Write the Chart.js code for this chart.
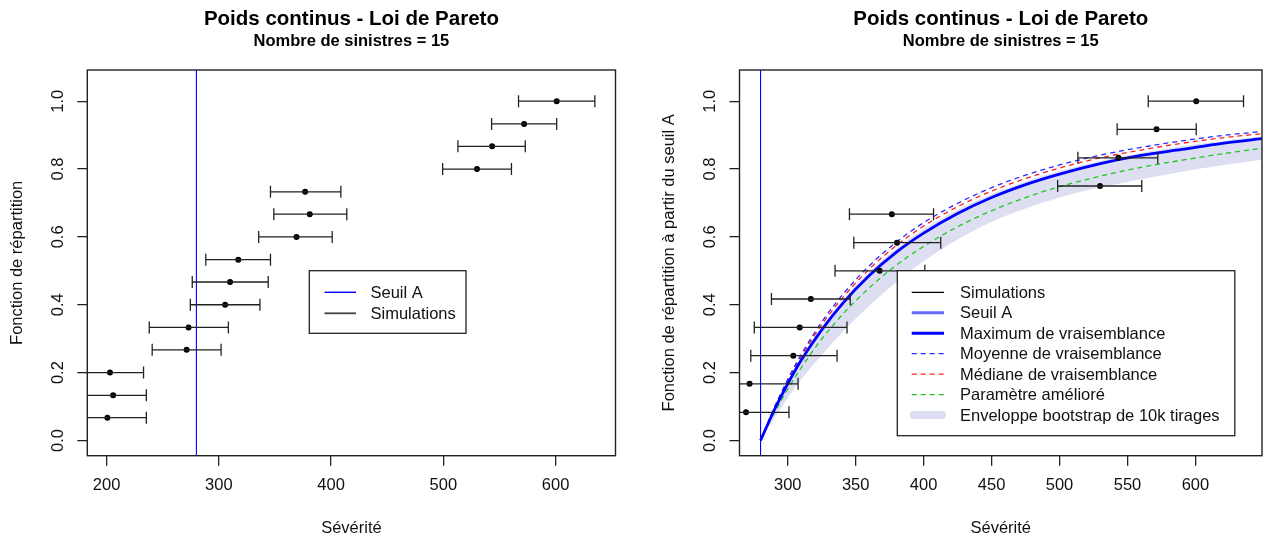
<!DOCTYPE html>
<html><head><meta charset="utf-8">
<script src="https://cdn.jsdelivr.net/npm/chart.js@4.4.1/dist/chart.umd.min.js"></script>
<style>
html,body{margin:0;padding:0;background:#fff;}
#wrap{position:relative;width:1266px;height:539px;overflow:hidden;background:#fff;}
canvas{position:absolute;top:0;}
</style></head><body>
<div id="wrap">
<canvas id="c1" width="633" height="539" style="left:0px;width:633px;height:539px"></canvas>
<canvas id="c2" width="633" height="539" style="left:633px;width:633px;height:539px"></canvas>
</div>
<script>
// ---------- data ----------
const titleMain = 'Poids continus - Loi de Pareto';
const titleSub = 'Nombre de sinistres = 15';
const seuilA = 280;

// left panel: 15 simulations
const leftY    = [0.067, 0.133, 0.200, 0.267, 0.333, 0.400, 0.467, 0.533, 0.600, 0.667, 0.733, 0.800, 0.867, 0.933, 1.000];
const leftX    = [200.7, 205.8, 203.0, 271.3, 273.0, 305.6, 310.0, 317.3, 369.2, 381.0, 376.9, 530.0, 543.5, 572.0, 601.0];
const leftLow  = [168.0, 172.0, 171.0, 240.6, 238.0, 274.6, 276.3, 288.4, 335.5, 349.0, 346.0, 499.4, 513.0, 543.0, 567.0];
const leftHigh = [235.4, 235.4, 232.9, 302.0, 308.5, 336.6, 344.0, 346.0, 401.0, 414.0, 408.7, 560.7, 573.0, 601.0, 635.0];
const leftXTicks = [200, 300, 400, 500, 600];

// right panel: 12 simulations above the threshold
const rightY    = [0.083, 0.167, 0.250, 0.333, 0.417, 0.500, 0.583, 0.667, 0.750, 0.833, 0.917, 1.000];
const rightX    = [269.3, 271.9, 304.1, 308.8, 317.0, 367.6, 380.4, 376.6, 529.8, 543.3, 571.4, 600.6];
const rightLow  = [238.0, 240.0, 272.8, 275.4, 288.0, 334.8, 348.6, 345.4, 498.6, 513.5, 542.4, 565.3];
const rightHigh = [300.9, 307.6, 336.3, 343.6, 346.0, 400.9, 412.6, 407.3, 560.5, 572.3, 600.6, 635.4];
const rightXTicks = [300, 350, 400, 450, 500, 550, 600];

// fitted curves
const curveX  = [280, 290, 300, 310, 325, 340, 360, 380, 400, 425, 450, 475, 500, 530, 560, 590, 620, 650];
const mleY    = [0, 0.089, 0.167, 0.237, 0.326, 0.402, 0.486, 0.555, 0.611, 0.669, 0.716, 0.754, 0.785, 0.816, 0.840, 0.858, 0.876, 0.890];
const moyY    = [0, 0.096, 0.180, 0.254, 0.349, 0.428, 0.515, 0.585, 0.642, 0.699, 0.745, 0.782, 0.812, 0.841, 0.864, 0.883, 0.899, 0.911];
const medY    = [0, 0.094, 0.176, 0.248, 0.341, 0.419, 0.505, 0.575, 0.632, 0.689, 0.735, 0.772, 0.803, 0.833, 0.856, 0.876, 0.892, 0.905];
const amelY   = [0, 0.080, 0.151, 0.215, 0.299, 0.370, 0.450, 0.517, 0.572, 0.630, 0.677, 0.716, 0.748, 0.779, 0.805, 0.826, 0.845, 0.862];
const envHigh = [0, 0.092, 0.172, 0.243, 0.335, 0.412, 0.497, 0.566, 0.623, 0.680, 0.726, 0.763, 0.794, 0.824, 0.847, 0.867, 0.883, 0.897];
const envLow  = [0, 0.065, 0.125, 0.180, 0.252, 0.318, 0.397, 0.467, 0.528, 0.592, 0.645, 0.684, 0.716, 0.746, 0.770, 0.792, 0.811, 0.828];

const yTicks = [0, 0.2, 0.4, 0.6, 0.8, 1.0];

// ---------- styling ----------
const FAM = '"Liberation Sans", Arial, sans-serif';
const FS = 16.5;
const TXT = '#111';
Chart.defaults.font.family = FAM;

const pts = (xs, ys) => xs.map((x, i) => ({x: x, y: ys[i]}));

function titlesPlugin() {
  return { id: 'rtitles', afterDraw(chart) {
    const {ctx, chartArea: a} = chart;
    const cx = (a.left + a.right) / 2;
    ctx.save();
    ctx.fillStyle = '#000';
    ctx.textAlign = 'center';
    ctx.textBaseline = 'alphabetic';
    ctx.font = 'bold 20.5px ' + FAM;
    ctx.fillText(titleMain, cx, 25);
    ctx.font = 'bold 16.5px ' + FAM;
    ctx.fillText(titleSub, cx, 46);
    ctx.restore();
  }};
}

function boxPlugin() {
  return { id: 'rbox', afterDraw(chart) {
    const {ctx, chartArea: a} = chart;
    ctx.save();
    ctx.strokeStyle = '#222';
    ctx.lineWidth = 1.4;
    ctx.strokeRect(a.left, a.top, a.right - a.left, a.bottom - a.top);
    ctx.restore();
  }};
}

function errPlugin(xs, ys, lows, highs) {
  return { id: 'rerr', afterDatasetsDraw(chart) {
    const {ctx, chartArea: a, scales} = chart;
    const sx = scales.x, sy = scales.y;
    ctx.save();
    ctx.beginPath();
    ctx.rect(a.left, a.top, a.right - a.left, a.bottom - a.top);
    ctx.clip();
    // threshold line
    const tx = sx.getPixelForValue(seuilA);
    ctx.strokeStyle = '#0000FF';
    ctx.lineWidth = 1.1;
    ctx.beginPath();
    ctx.moveTo(tx, a.top); ctx.lineTo(tx, a.bottom);
    ctx.stroke();
    // error bars
    ctx.strokeStyle = '#222';
    ctx.lineWidth = 1.3;
    for (let i = 0; i < xs.length; i++) {
      const py = sy.getPixelForValue(ys[i]);
      const x0 = sx.getPixelForValue(lows[i]);
      const x1 = sx.getPixelForValue(highs[i]);
      ctx.beginPath();
      ctx.moveTo(x0, py); ctx.lineTo(x1, py);
      ctx.moveTo(x0, py - 6); ctx.lineTo(x0, py + 6);
      ctx.moveTo(x1, py - 6); ctx.lineTo(x1, py + 6);
      ctx.stroke();
    }
    ctx.restore();
  }};
}

function legendPlugin(box, items, lineX0, lineX1, textX, y0, dy) {
  return { id: 'rlegend', afterDraw(chart) {
    const ctx = chart.ctx;
    ctx.save();
    ctx.fillStyle = '#fff';
    ctx.fillRect(box[0], box[1], box[2] - box[0], box[3] - box[1]);
    ctx.strokeStyle = '#222';
    ctx.lineWidth = 1.3;
    ctx.strokeRect(box[0], box[1], box[2] - box[0], box[3] - box[1]);
    items.forEach((it, i) => {
      const y = y0 + i * dy;
      ctx.save();
      ctx.strokeStyle = it.color;
      ctx.lineWidth = it.width;
      ctx.setLineDash(it.dash || []);
      ctx.lineCap = it.cap || 'butt';
      ctx.beginPath();
      ctx.moveTo(lineX0 + (it.inset || 0), y);
      ctx.lineTo(lineX1 - (it.inset || 0), y);
      ctx.stroke();
      ctx.restore();
      ctx.fillStyle = TXT;
      ctx.font = FS + 'px ' + FAM;
      ctx.textAlign = 'left';
      ctx.textBaseline = 'middle';
      ctx.fillText(it.label, textX, y + 1);
    });
    ctx.restore();
  }};
}

function makeScales(xmin, xmax, xTicks, yTitle, yWidth, yTitlePad) {
  const grid = {drawOnChartArea: false, drawTicks: true, tickLength: 10, color: '#222', lineWidth: 1.3};
  return {
    x: {
      type: 'linear', min: xmin, max: xmax,
      afterBuildTicks: s => { s.ticks = xTicks.map(v => ({value: v})); },
      afterFit: s => { s.height = 83.3; },
      grid: grid, border: {display: false},
      ticks: {font: {size: FS}, color: TXT, padding: 10, maxRotation: 0, autoSkip: false,
              callback: v => String(v)},
      title: {display: true, text: 'Sévérité', font: {size: FS}, color: TXT, padding: {top: 0, bottom: 1}}
    },
    y: {
      type: 'linear', min: -0.045, max: 1.092,
      afterBuildTicks: s => { s.ticks = yTicks.map(v => ({value: v})); },
      afterFit: s => { s.width = yWidth; },
      grid: grid, border: {display: false},
      ticks: {font: {size: FS}, color: TXT, padding: 7.5, minRotation: 90, maxRotation: 90,
              crossAlign: 'center', autoSkip: false, callback: v => Number(v).toFixed(1)},
      title: {display: true, text: yTitle, font: {size: FS}, color: TXT, padding: {top: yTitlePad, bottom: 0}}
    }
  };
}

// ---------- left chart ----------
new Chart(document.getElementById('c1'), {
  type: 'scatter',
  data: { datasets: [
    {label: 'Simulations', data: pts(leftX, leftY), pointRadius: 3, pointBackgroundColor: '#000',
     pointBorderWidth: 0, showLine: false}
  ]},
  options: {
    responsive: false, animation: false, devicePixelRatio: 1,
    layout: {padding: {left: 0, right: 17.5, top: 70, bottom: 0}},
    plugins: {legend: {display: false}, tooltip: {enabled: false}},
    scales: makeScales(182.8, 653.4, leftXTicks, 'Fonction de répartition', 87.3, 8)
  },
  plugins: [
    errPlugin(leftX, leftY, leftLow, leftHigh), boxPlugin(), titlesPlugin(),
    legendPlugin([309.3, 270.7, 466, 333.3], [
      {label: 'Seuil A', color: '#0000FF', width: 1.4},
      {label: 'Simulations', color: '#444', width: 1.8}
    ], 324.5, 356, 370.5, 292.3, 21)
  ]
});

// ---------- right chart ----------
const OFF = 633;
new Chart(document.getElementById('c2'), {
  type: 'scatter',
  data: { datasets: [
    {label: 'Simulations', data: pts(rightX, rightY), pointRadius: 3, pointBackgroundColor: '#000',
     pointBorderWidth: 0, showLine: false},
    {type: 'line', label: 'Maximum de vraisemblance', data: pts(curveX, mleY), borderColor: '#0000FF',
     borderWidth: 2.8, pointRadius: 0, fill: false, cubicInterpolationMode: 'monotone'},
    {type: 'line', label: 'Moyenne de vraisemblance', data: pts(curveX, moyY), borderColor: '#2B2BFF',
     borderWidth: 1.3, borderDash: [5, 4], pointRadius: 0, fill: false, cubicInterpolationMode: 'monotone'},
    {type: 'line', label: 'Médiane de vraisemblance', data: pts(curveX, medY), borderColor: '#FF2020',
     borderWidth: 1.3, borderDash: [5, 4], pointRadius: 0, fill: false, cubicInterpolationMode: 'monotone'},
    {type: 'line', label: 'Paramètre amélioré', data: pts(curveX, amelY), borderColor: '#1FC81F',
     borderWidth: 1.3, borderDash: [5, 4], pointRadius: 0, fill: false, cubicInterpolationMode: 'monotone'},
    {type: 'line', label: 'env-haut', data: pts(curveX, envHigh), borderWidth: 0, borderColor: 'rgba(0,0,0,0)',
     backgroundColor: 'rgb(222,222,242)', pointRadius: 0, fill: '+1', cubicInterpolationMode: 'monotone'},
    {type: 'line', label: 'env-bas', data: pts(curveX, envLow), borderWidth: 0, borderColor: 'rgba(0,0,0,0)',
     pointRadius: 0, fill: false, cubicInterpolationMode: 'monotone'}
  ]},
  options: {
    responsive: false, animation: false, devicePixelRatio: 1,
    layout: {padding: {left: 0, right: 1, top: 70, bottom: 0}},
    plugins: {legend: {display: false}, tooltip: {enabled: false}},
    scales: makeScales(264.5, 649, rightXTicks, 'Fonction de répartition à partir du seuil A', 106.5, 27)
  },
  plugins: [
    errPlugin(rightX, rightY, rightLow, rightHigh), boxPlugin(), titlesPlugin(),
    legendPlugin([897.3 - OFF, 270.7, 1234.8 - OFF, 435.7], [
      {label: 'Simulations', color: '#000', width: 1.2},
      {label: 'Seuil A', color: '#6A6AFF', width: 3},
      {label: 'Maximum de vraisemblance', color: '#0000FF', width: 3},
      {label: 'Moyenne de vraisemblance', color: '#2B2BFF', width: 1.3, dash: [5, 4]},
      {label: 'Médiane de vraisemblance', color: '#FF2020', width: 1.3, dash: [5, 4]},
      {label: 'Paramètre amélioré', color: '#1FC81F', width: 1.3, dash: [5, 4]},
      {label: 'Enveloppe bootstrap de 10k tirages', color: 'rgb(222,222,242)', width: 8, cap: 'round', inset: 2}
    ], 911.7 - OFF, 944 - OFF, 960 - OFF, 292.3, 20.45)
  ]
});
</script>
</body></html>
